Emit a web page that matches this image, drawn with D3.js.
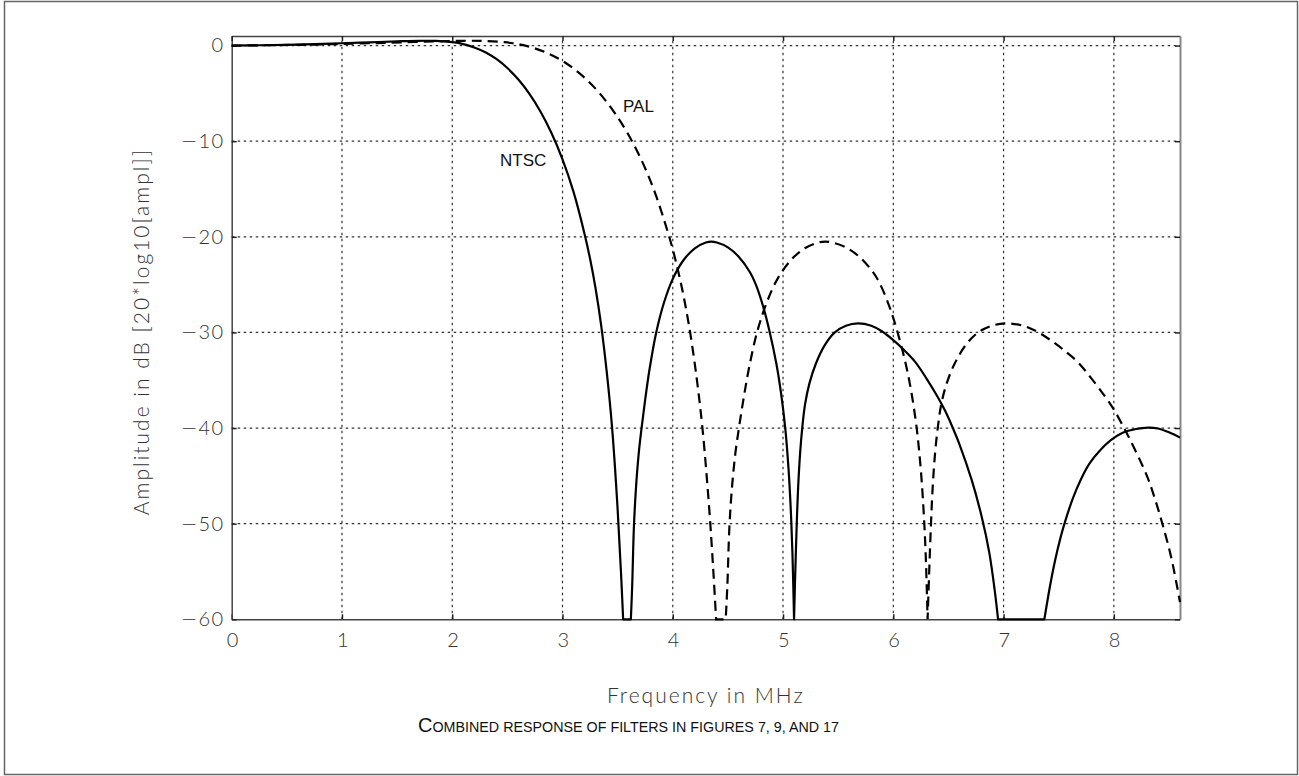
<!DOCTYPE html>
<html><head><meta charset="utf-8">
<script src="https://cdn.jsdelivr.net/npm/d3@7"></script>
<style>
html,body{margin:0;padding:0;background:#fff;}
svg{display:block;}
.tick-label{font-family:Lato,"Open Sans",sans-serif;font-weight:300;font-size:20px;fill:#333;letter-spacing:1.5px;}
.axis-title{font-family:Lato,"Open Sans",sans-serif;font-weight:300;font-size:21px;fill:#333;letter-spacing:2px;}
.curve-label{font-family:"Liberation Sans",Arial,sans-serif;font-size:17px;fill:#111;}
.caption{font-family:"Liberation Sans",Arial,sans-serif;fill:#111;}
</style>
</head><body>
<svg id="chart" width="1299" height="776"></svg>
<script>
// ---- data ----
const xTicks = [0, 1, 2, 3, 4, 5, 6, 7, 8];
const yTicks = [0, -10, -20, -30, -40, -50, -60];

const ntscFreq = [0, 0.25, 0.5, 0.75, 1.0, 1.25, 1.5, 1.7, 1.85, 2.0, 2.1, 2.2, 2.3, 2.4, 2.5, 2.6, 2.7, 2.8, 2.9, 3.0, 3.1, 3.2, 3.25, 3.3, 3.35, 3.4, 3.45, 3.5, 3.53, 3.55,
  3.62, 3.632, 3.647, 3.665, 3.69, 3.717, 3.75, 3.79, 3.85, 3.92, 4.0, 4.1, 4.2, 4.3, 4.35, 4.4, 4.5, 4.6, 4.7, 4.75, 4.82, 4.88, 4.94, 4.98, 5.02, 5.05, 5.07, 5.085, 5.1,
  5.11, 5.123, 5.137, 5.155, 5.174, 5.2, 5.24, 5.3, 5.38, 5.47, 5.57, 5.68, 5.8, 5.9, 6.0, 6.09, 6.2, 6.3, 6.4, 6.47, 6.54, 6.6, 6.71, 6.8, 6.87, 6.92, 6.95,
  7.37, 7.42, 7.47, 7.52, 7.56, 7.63, 7.7, 7.78, 7.87, 7.97, 8.08, 8.2, 8.31, 8.4, 8.5, 8.6];
const ntscDb = [0, 0.03, 0.08, 0.15, 0.24, 0.34, 0.44, 0.5, 0.48, 0.35, 0.15, -0.2, -0.7, -1.4, -2.35, -3.55, -5.05, -6.9, -9.15, -11.9, -15.3, -19.7, -22.3, -25.4, -29.2, -34.0, -40.0, -48.5, -55, -60,
  -60, -56.5, -50.5, -46.5, -42.8, -40.0, -37.0, -33.8, -30.0, -26.9, -24.4, -22.4, -21.2, -20.6, -20.5, -20.6, -21.1, -22.1, -23.7, -24.9, -27.3, -30.0, -33.3, -36.2, -40.0, -44.3, -48.5, -53, -60,
  -55.5, -50.5, -46.2, -42.6, -40.0, -37.5, -35.3, -33.2, -31.3, -30.0, -29.3, -29.05, -29.3, -29.9, -30.8, -31.75, -33.1, -34.8, -36.7, -38.2, -40, -41.7, -45.4, -49.2, -53, -57, -60,
  -60, -56.6, -53.7, -51.3, -49.7, -47.3, -45.4, -43.7, -42.4, -41.3, -40.5, -40.1, -39.95, -40.05, -40.45, -41.0];

const palFreq = [0, 0.31, 0.62, 0.93, 1.24, 1.55, 1.86, 2.10, 2.29, 2.475, 2.599, 2.723, 2.846, 2.97, 3.094, 3.218, 3.341, 3.465, 3.589, 3.713, 3.836, 3.96, 4.022, 4.084, 4.146, 4.208, 4.269, 4.331, 4.368, 4.393,
  4.48, 4.495, 4.513, 4.535, 4.566, 4.600, 4.641, 4.690, 4.764, 4.851, 4.95, 5.074, 5.198, 5.321, 5.383, 5.445, 5.569, 5.693, 5.816, 5.878, 5.965, 6.039, 6.113, 6.163, 6.212, 6.249, 6.274, 6.293, 6.311,
  6.324, 6.340, 6.357, 6.379, 6.403, 6.435, 6.485, 6.559, 6.658, 6.769, 6.893, 7.029, 7.178, 7.301, 7.425, 7.536, 7.673, 7.796, 7.92, 8.007, 8.093, 8.168, 8.30, 8.37, 8.44, 8.52, 8.6];
const palDb = [0, 0.03, 0.08, 0.15, 0.24, 0.34, 0.44, 0.5, 0.48, 0.35, 0.15, -0.2, -0.7, -1.4, -2.35, -3.55, -5.05, -6.9, -9.15, -11.9, -15.3, -19.7, -22.3, -25.4, -29.2, -34.0, -40.0, -48.5, -55, -60,
  -60, -56.5, -50.5, -46.5, -42.8, -40.0, -37.0, -33.8, -30.0, -26.9, -24.4, -22.4, -21.2, -20.6, -20.5, -20.6, -21.1, -22.1, -23.7, -24.9, -27.3, -30.0, -33.3, -36.2, -40.0, -44.3, -48.5, -53, -60,
  -55.5, -50.5, -46.2, -42.6, -40.0, -37.5, -35.3, -33.2, -31.3, -30.0, -29.3, -29.05, -29.3, -29.9, -30.8, -31.75, -33.1, -34.8, -36.7, -38.2, -40, -41.7, -45.0, -47.3, -50, -53.5, -58.2];

const xTitle = "Frequency in MHz";
const yTitle = "Amplitude in dB [20*log10[ampl]]";
const captionFirst = "C";
const captionRest = "OMBINED RESPONSE OF FILTERS IN FIGURES 7, 9, AND 17";

// ---- layout ----
const svg = d3.select("#chart");
const L = 231.7, R = 1180, T = 36, B = 619.3;
const x = d3.scaleLinear().domain([0, 8.6]).range([L, R]);
const y = d3.scaleLinear().domain([-60, 1]).range([B, T]);

// outer frame
svg.append("rect").attr("x", 4.5).attr("y", 1.5).attr("width", 1293).attr("height", 773)
  .attr("fill", "none").attr("stroke", "#666").attr("stroke-width", 1.5);

// grid
const grid = svg.append("g").attr("stroke", "#333").attr("stroke-width", 1.2).attr("stroke-dasharray", "2.5,3.5");
grid.selectAll(".gv").data(xTicks.filter(d => d > 0)).join("line")
  .attr("x1", d => x(d)).attr("x2", d => x(d)).attr("y1", B).attr("y2", T);
grid.selectAll(".gh").data(yTicks.filter(d => d > -60)).join("line")
  .attr("x1", L).attr("x2", R).attr("y1", d => y(d)).attr("y2", d => y(d));

// axes via d3 axis (inward ticks)
const xAxis = svg.append("g").attr("transform", `translate(0,${B})`)
  .call(d3.axisBottom(x).tickValues(xTicks).tickSizeInner(-5).tickSizeOuter(0).tickPadding(14).tickFormat(d3.format("d")));
const yAxis = svg.append("g").attr("transform", `translate(${L},0)`)
  .call(d3.axisLeft(y).tickValues(yTicks).tickSizeInner(-5).tickSizeOuter(0).tickPadding(7).tickFormat(d => d < 0 ? "\u2212" + Math.abs(d) : String(d)));
const xTop = svg.append("g").attr("transform", `translate(0,${T})`)
  .call(d3.axisTop(x).tickValues(xTicks).tickSizeInner(-5).tickSizeOuter(0).tickFormat(""));
const yRight = svg.append("g").attr("transform", `translate(${R},0)`)
  .call(d3.axisRight(y).tickValues(yTicks).tickSizeInner(-5).tickSizeOuter(0).tickFormat(""));

[xAxis, yAxis, xTop].forEach(g => {
  g.select(".domain").attr("stroke", "#444").attr("stroke-width", 1.5);
  g.selectAll(".tick line").attr("stroke", "#222").attr("stroke-width", 1.5);
  g.selectAll(".tick text").attr("class", "tick-label").attr("fill", null);
});
xAxis.selectAll(".tick text").attr("dx", 1);
// render the minus sign with a longer, thin glyph
yAxis.selectAll(".tick text").each(function() {
  const t = d3.select(this);
  const s = t.text();
  if (s.startsWith("\u2212")) {
    t.text("");
    t.append("tspan").style("font-family", "'DejaVu Sans'").style("font-weight", 200).style("letter-spacing", "0px").text("\u2212");
    t.append("tspan").attr("dx", 1).text(s.slice(1));
  }
});
yRight.select(".domain").attr("stroke", "#888").attr("stroke-width", 2);
yRight.selectAll(".tick line").attr("stroke", "#222").attr("stroke-width", 1.5);

// curves: smooth lobes between the -60 dB floor points, straight along the floor
const lobeLine = d3.line().x(d => x(d[0])).y(d => y(d[1])).curve(d3.curveCatmullRom.alpha(0.5));
function pathFor(pts) {
  const segs = [];
  let cur = [pts[0]];
  for (let i = 1; i < pts.length; i++) {
    cur.push(pts[i]);
    if (pts[i][1] <= -60) { segs.push(cur); cur = [pts[i]]; }
  }
  if (cur.length > 1) segs.push(cur);
  return segs.map((s, i) => {
    const d = lobeLine(s);
    return i === 0 ? d : "L" + d.slice(1);
  }).join("");
}
const ntsc = d3.zip(ntscFreq, ntscDb);
const pal = d3.zip(palFreq, palDb);
svg.append("path").attr("d", pathFor(ntsc)).attr("fill", "none").attr("stroke", "#000").attr("stroke-width", 2.2).attr("stroke-linejoin", "round");
svg.append("path").attr("d", pathFor(pal)).attr("fill", "none").attr("stroke", "#000").attr("stroke-width", 2.2).attr("stroke-dasharray", "10,6");

// curve labels
svg.append("text").attr("class", "curve-label").attr("x", 500).attr("y", 166).text("NTSC");
svg.append("text").attr("class", "curve-label").attr("x", 623).attr("y", 112).text("PAL");

// axis titles
svg.append("text").attr("class", "axis-title").attr("text-anchor", "middle")
  .attr("x", (L + R) / 2).attr("y", 703).text(xTitle);
svg.append("text").attr("class", "axis-title").attr("text-anchor", "middle")
  .attr("transform", `translate(149,${(T + B) / 2 + 4}) rotate(-90)`).text(yTitle);

// caption (small caps)
const cap = svg.append("text").attr("class", "caption").attr("x", 418).attr("y", 732);
cap.append("tspan").attr("font-size", 20).text(captionFirst);
cap.append("tspan").attr("font-size", 14.3).text(captionRest);
</script>
</body></html>
